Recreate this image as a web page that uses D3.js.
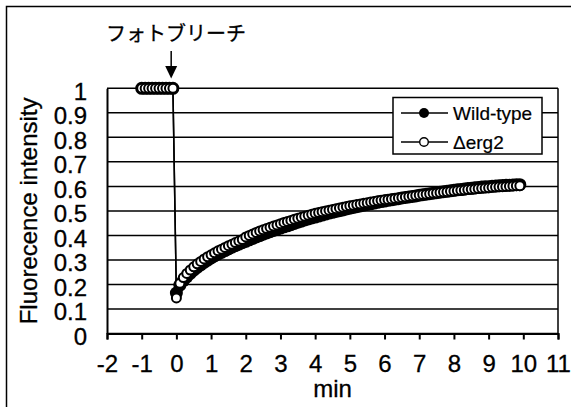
<!DOCTYPE html>
<html>
<head>
<meta charset="utf-8">
<script src="https://d3js.org/d3.v7.min.js"></script>
<style>
  body { margin: 0; background: #fff; }
  text { font-family: "Liberation Sans", Arial, sans-serif; fill: #000; }
  .jp { font-family: "Noto Sans CJK JP", sans-serif; }
</style>
</head>
<body>
<div id="chart"></div>
<script>
// time (min)
const timeMin = [-1.0, -0.9, -0.8, -0.7, -0.6, -0.5, -0.4, -0.3, -0.2, -0.1,
  0.0, 0.1, 0.2, 0.3, 0.4, 0.5, 0.6, 0.7, 0.8, 0.9,
  1.0, 1.1, 1.2, 1.3, 1.4, 1.5, 1.6, 1.7, 1.8, 1.9,
  2.0, 2.1, 2.2, 2.3, 2.4, 2.5, 2.6, 2.7, 2.8, 2.9,
  3.0, 3.1, 3.2, 3.3, 3.4, 3.5, 3.6, 3.7, 3.8, 3.9,
  4.0, 4.1, 4.2, 4.3, 4.4, 4.5, 4.6, 4.7, 4.8, 4.9,
  5.0, 5.1, 5.2, 5.3, 5.4, 5.5, 5.6, 5.7, 5.8, 5.9,
  6.0, 6.1, 6.2, 6.3, 6.4, 6.5, 6.6, 6.7, 6.8, 6.9,
  7.0, 7.1, 7.2, 7.3, 7.4, 7.5, 7.6, 7.7, 7.8, 7.9,
  8.0, 8.1, 8.2, 8.3, 8.4, 8.5, 8.6, 8.7, 8.8, 8.9,
  9.0, 9.1, 9.2, 9.3, 9.4, 9.5, 9.6, 9.7, 9.8, 9.9];

const wildType = [1, 1, 1, 1, 1, 1, 1, 1, 1, 1,
  0.165, 0.197, 0.216, 0.231, 0.245, 0.258, 0.270, 0.280, 0.290, 0.299,
  0.308, 0.316, 0.324, 0.331, 0.338, 0.345, 0.352, 0.358, 0.364, 0.370,
  0.376, 0.382, 0.388, 0.394, 0.399, 0.405, 0.410, 0.415, 0.420, 0.425,
  0.430, 0.435, 0.439, 0.444, 0.449, 0.454, 0.458, 0.463, 0.467, 0.471,
  0.475, 0.479, 0.483, 0.487, 0.491, 0.494, 0.498, 0.501, 0.504, 0.508,
  0.511, 0.514, 0.517, 0.520, 0.523, 0.526, 0.529, 0.532, 0.535, 0.538,
  0.540, 0.543, 0.545, 0.548, 0.550, 0.553, 0.555, 0.557, 0.559, 0.561,
  0.564, 0.566, 0.568, 0.570, 0.572, 0.574, 0.576, 0.578, 0.580, 0.582,
  0.584, 0.586, 0.587, 0.589, 0.591, 0.592, 0.594, 0.595, 0.597, 0.598,
  0.599, 0.601, 0.602, 0.603, 0.604, 0.605, 0.605, 0.606, 0.607, 0.607];

const dErg2 = [1, 1, 1, 1, 1, 1, 1, 1, 1, 1,
  0.145, 0.205, 0.228, 0.245, 0.259, 0.272, 0.284, 0.294, 0.304, 0.313,
  0.321, 0.329, 0.337, 0.344, 0.351, 0.358, 0.364, 0.371, 0.377, 0.383,
  0.394, 0.400, 0.406, 0.412, 0.418, 0.423, 0.428, 0.433, 0.438, 0.443,
  0.448, 0.453, 0.457, 0.461, 0.466, 0.470, 0.474, 0.478, 0.482, 0.486,
  0.490, 0.493, 0.497, 0.500, 0.503, 0.506, 0.509, 0.512, 0.515, 0.518,
  0.521, 0.523, 0.526, 0.528, 0.531, 0.533, 0.536, 0.538, 0.541, 0.543,
  0.545, 0.547, 0.549, 0.551, 0.553, 0.555, 0.557, 0.559, 0.561, 0.563,
  0.565, 0.567, 0.568, 0.570, 0.572, 0.573, 0.575, 0.577, 0.578, 0.580,
  0.581, 0.583, 0.584, 0.585, 0.587, 0.588, 0.589, 0.591, 0.592, 0.593,
  0.594, 0.596, 0.597, 0.598, 0.599, 0.600, 0.601, 0.602, 0.603, 0.603];

const xTicks = [-2, -1, 0, 1, 2, 3, 4, 5, 6, 7, 8, 9, 10, 11];
const yTicks = [0, 0.1, 0.2, 0.3, 0.4, 0.5, 0.6, 0.7, 0.8, 0.9, 1];
const seriesNames = ["Wild-type", "\u0394erg2"];
const bleachLabel = "フォトブリーチ";
const bleachTime = -0.15;

const W = 571, H = 407;
const margin = {top: 88.3, right: 13, bottom: 73.5, left: 107};
const width = W - margin.left - margin.right;
const height = H - margin.top - margin.bottom;

const svg = d3.select("#chart").append("svg")
  .attr("width", W)
  .attr("height", H);

// outer frame (cut off on the right and bottom like the original)
svg.append("rect")
  .attr("x", 6.5).attr("y", 6.5)
  .attr("width", 600).attr("height", 450)
  .attr("fill", "none").attr("stroke", "#000").attr("stroke-width", 1.5);

const g = svg.append("g")
  .attr("transform", `translate(${margin.left},${margin.top})`);

const x = d3.scaleLinear().domain([-2, 11]).range([0, width]);
const y = d3.scaleLinear().domain([0, 1]).range([height, 0]);

// horizontal grid
g.append("g")
  .selectAll("line")
  .data(yTicks)
  .join("line")
  .attr("x1", 0).attr("x2", width)
  .attr("y1", d => y(d)).attr("y2", d => y(d))
  .attr("stroke", "#000").attr("stroke-width", 1.5);

// right border
g.append("line")
  .attr("x1", width).attr("x2", width)
  .attr("y1", 0).attr("y2", height)
  .attr("stroke", "#000").attr("stroke-width", 1.5);

const xAxis = d3.axisBottom(x).tickValues(xTicks).tickSize(6).tickPadding(8)
  .tickFormat(d => String(d));
const yAxis = d3.axisLeft(y).tickValues(yTicks).tickSize(0).tickPadding(20)
  .tickFormat(d => String(d));

const xg = g.append("g").attr("transform", `translate(0,${height})`).call(xAxis);
const yg = g.append("g").call(yAxis);

[xg, yg].forEach(a => {
  a.select(".domain").attr("stroke", "#000").attr("stroke-width", 2);
  a.selectAll(".tick line").attr("stroke", "#000").attr("stroke-width", 2);
  a.selectAll("text").style("font-size", "24px")
    .style("font-family", '"Liberation Sans", Arial, sans-serif')
    .attr("stroke", "#000").attr("stroke-width", 0.3);
});
xg.selectAll("text").attr("y", 21).attr("dy", "0.71em");
yg.selectAll("text").attr("dy", "0.45em");

// axis titles
svg.append("text")
  .attr("x", margin.left + width / 2)
  .attr("y", 397)
  .attr("text-anchor", "middle")
  .style("font-size", "24px")
  .attr("stroke", "#000").attr("stroke-width", 0.3)
  .text("min");

svg.append("text")
  .attr("transform", `translate(37,${margin.top + height / 2}) rotate(-90)`)
  .attr("text-anchor", "middle")
  .style("font-size", "24px")
  .attr("stroke", "#000").attr("stroke-width", 0.3)
  .text("Fluorecence intensity");

// series
const rows = timeMin.map((t, i) => ({t: t, wt: wildType[i], de: dErg2[i]}));

const line = key => d3.line().x(d => x(d.t)).y(d => y(d[key]));

g.append("path").datum(rows)
  .attr("d", line("wt"))
  .attr("fill", "none").attr("stroke", "#000").attr("stroke-width", 1.5);
g.selectAll(".wt").data(rows).join("circle")
  .attr("class", "wt")
  .attr("cx", d => x(d.t)).attr("cy", d => y(d.wt))
  .attr("r", 6.5).attr("fill", "#000");

g.append("path").datum(rows)
  .attr("d", line("de"))
  .attr("fill", "none").attr("stroke", "#000").attr("stroke-width", 1.5);
g.selectAll(".de").data(rows).join("circle")
  .attr("class", "de")
  .attr("cx", d => x(d.t)).attr("cy", d => y(d.de))
  .attr("r", 4.5).attr("fill", "#fff")
  .attr("stroke", "#000").attr("stroke-width", 2);

// legend
const lg = svg.append("g").attr("transform", "translate(393,97.5)");
lg.append("rect")
  .attr("width", 149).attr("height", 56.5)
  .attr("fill", "#fff").attr("stroke", "#000").attr("stroke-width", 1.5);
seriesNames.forEach((name, i) => {
  const ly = 15.5 + i * 29;
  lg.append("line").attr("x1", 8).attr("x2", 55).attr("y1", ly).attr("y2", ly)
    .attr("stroke", "#000").attr("stroke-width", 1.5);
  lg.append("circle").attr("cx", 31).attr("cy", ly)
    .attr("r", i === 0 ? 5 : 4.3)
    .attr("fill", i === 0 ? "#000" : "#fff")
    .attr("stroke", "#000").attr("stroke-width", i === 0 ? 0 : 1.4);
  lg.append("text").attr("x", 60).attr("y", ly).attr("dy", "0.35em")
    .style("font-size", "19px")
    .attr("stroke", "#000").attr("stroke-width", 0.2)
    .text(name);
});

// photobleach annotation
const ax = margin.left + x(bleachTime);
svg.append("text").attr("class", "jp")
  .attr("x", 106).attr("y", 41)
  .style("font-size", "20px")
  .attr("stroke", "#000").attr("stroke-width", 0.3)
  .text(bleachLabel);
svg.append("line")
  .attr("x1", ax).attr("x2", ax).attr("y1", 51).attr("y2", 68)
  .attr("stroke", "#000").attr("stroke-width", 1.5);
svg.append("path")
  .attr("d", `M${ax - 6},66 L${ax + 6},66 L${ax},78.5 Z`)
  .attr("fill", "#000");
</script>
</body>
</html>
